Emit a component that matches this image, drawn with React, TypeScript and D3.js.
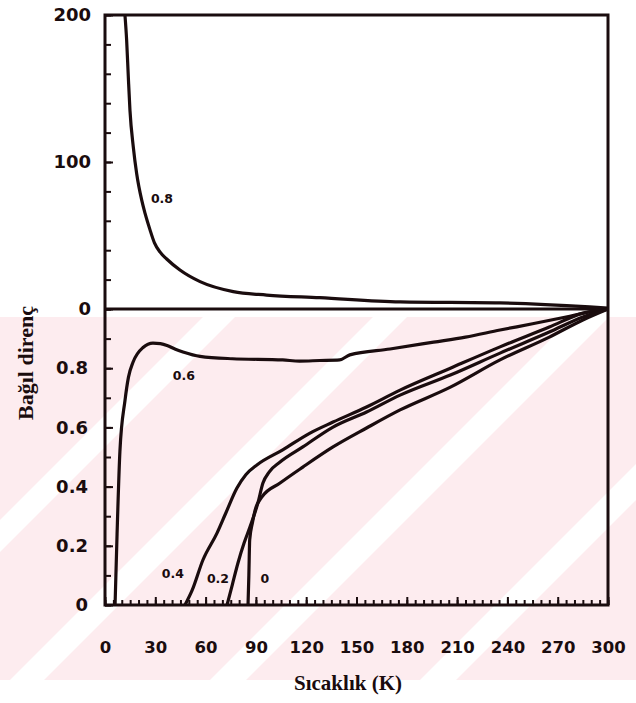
import { useEffect, useRef } from "react";
import * as d3 from "d3";

// [temperature K, relative resistance]
// upper panel curve (x = 0.8), 0..200
const upper08 = [
  [11.9, 200], [12.9, 183], [13.9, 158], [14.9, 135], [16.9, 110], [18.9, 92],
  [21.9, 74], [23.9, 65], [26.8, 54], [29.5, 45], [33, 38.5], [36.8, 34],
  [44.7, 26.5], [56.7, 18.6], [76.5, 11.8], [96.4, 9.5], [128, 7.7], [176, 4.8],
  [235.6, 4.1], [289, 1.4], [300, 0.6],
];
// lower panel curves, 0..1
const lower06 = [
  [6, 0], [7.2, 0.24], [8.9, 0.52], [11.9, 0.69], [14, 0.77], [16.7, 0.82],
  [22.7, 0.87], [28.6, 0.885], [33, 0.883], [37, 0.877], [42, 0.864], [46.5, 0.855],
  [56.7, 0.84], [76, 0.832], [106, 0.828], [116, 0.824], [128, 0.826], [140, 0.828],
  [146, 0.845], [170, 0.865], [196, 0.888], [215, 0.905], [235.6, 0.929], [255, 0.95],
  [275, 0.973], [289, 0.99], [300, 1.0],
];
const lower04 = [
  [47.7, 0], [52, 0.05], [58.4, 0.152], [66.8, 0.243], [72, 0.31], [78.7, 0.395],
  [84, 0.44], [90.6, 0.473], [106, 0.524], [122, 0.58], [136, 0.618], [156, 0.669],
  [176, 0.726], [206, 0.8], [235.6, 0.872], [265, 0.939], [285, 0.986], [300, 1.0],
];
const lower02 = [
  [72.8, 0], [76, 0.07], [79.3, 0.142], [83, 0.21], [86.5, 0.264], [91.2, 0.345],
  [94.2, 0.412], [98, 0.45], [104.4, 0.483], [118, 0.534], [136, 0.601], [156, 0.652],
  [176, 0.709], [206, 0.777], [235.6, 0.851], [265, 0.922], [285, 0.973], [300, 1.0],
];
const lower00 = [
  [85.3, 0], [85.8, 0.1], [86.3, 0.22], [88, 0.28], [89.5, 0.32], [93.6, 0.365],
  [104.4, 0.412], [118, 0.466], [136, 0.534], [156, 0.598], [176, 0.659], [206, 0.736],
  [235.6, 0.828], [265, 0.905], [285, 0.963], [300, 1.0],
];

// curve labels: [text, T, value, panel]
const curveLabels = [
  ["0.8", 34, 75.5, "up"],
  ["0.6", 47, 0.777, "lo"],
  ["0.4", 40.5, 0.108, "lo"],
  ["0.2", 67.4, 0.091, "lo"],
  ["0", 95.4, 0.091, "lo"],
];

const xTicks = [0, 30, 60, 90, 120, 150, 180, 210, 240, 270, 300];
const upperTicks = [0, 100, 200];
const lowerTicks = [0, 0.2, 0.4, 0.6, 0.8];

function App() {
  const ref = useRef(null);

  useEffect(() => {
    document.body.style.margin = "0";
    drawChart();
  }, []);

  function drawChart() {
    const W = 636;
    const left = 105, right = 608, top = 15, mid = 309, bottom = 605;
    const ink = "#1a0c0e";

    const svg = d3.select(ref.current);
    svg.selectAll("*").remove();

    const x = d3.scaleLinear().domain([0, 300]).range([left, right]);
    const yUp = d3.scaleLinear().domain([0, 200]).range([mid, top]);
    const yLo = d3.scaleLinear().domain([0, 1]).range([bottom, mid]);

    // faint watermark behind the lower part of the scan
    const wmTop = 317, wmBot = 680, wmH = wmBot - wmTop;
    const wm = svg.append("g");
    wm.append("rect")
      .attr("x", 0).attr("y", wmTop).attr("width", W).attr("height", wmH)
      .attr("fill", "#fdecef");
    // white diagonal bands: [x at bottom edge, width, direction]
    const stripes = [[-160, 32, 1], [10, 34, 1], [210, 36, 1], [420, 36, 1]];
    wm.selectAll("polygon")
      .data(stripes)
      .join("polygon")
      .attr("points", ([x0, w, dir]) => {
        const s = dir * wmH;
        return `${x0},${wmBot} ${x0 + w},${wmBot} ${x0 + w + s},${wmTop} ${x0 + s},${wmTop}`;
      })
      .attr("fill", "#ffffff");

    svg.append("clipPath").attr("id", "plot-clip")
      .append("rect").attr("x", left).attr("y", top)
      .attr("width", right - left).attr("height", bottom - top);

    // axes (ticks inward)
    function styleAxis(g, size) {
      g.select(".domain").remove();
      g.attr("font-family", "'DejaVu Sans', sans-serif")
        .attr("font-weight", "bold")
        .attr("font-size", size)
        .attr("color", ink);
      g.selectAll("line").attr("stroke-width", 2);
    }

    svg.append("g")
      .attr("transform", `translate(${left},0)`)
      .call(d3.axisLeft(yUp).tickValues(d3.range(0, 201, 20)).tickSize(-6).tickFormat(() => ""))
      .call(g => styleAxis(g, 18));
    svg.append("g")
      .attr("transform", `translate(${left},0)`)
      .call(d3.axisLeft(yUp).tickValues(upperTicks).tickSize(-8).tickPadding(14))
      .call(g => styleAxis(g, 18));

    svg.append("g")
      .attr("transform", `translate(${left},0)`)
      .call(d3.axisLeft(yLo).tickValues(d3.range(0, 1.01, 0.1)).tickSize(-6).tickFormat(() => ""))
      .call(g => styleAxis(g, 18));
    svg.append("g")
      .attr("transform", `translate(${left},0)`)
      .call(d3.axisLeft(yLo).tickValues(lowerTicks).tickSize(-8).tickPadding(17)
        .tickFormat(d => (d === 0 ? "0" : d3.format(".1f")(d))))
      .call(g => styleAxis(g, 18));

    svg.append("g")
      .attr("transform", `translate(0,${bottom})`)
      .call(d3.axisBottom(x).tickValues(d3.range(0, 301, 5)).tickSize(-5).tickFormat(() => ""))
      .call(g => styleAxis(g, 16));
    svg.append("g")
      .attr("transform", `translate(0,${bottom})`)
      .call(d3.axisBottom(x).tickValues(xTicks).tickSize(-8).tickPadding(36))
      .call(g => styleAxis(g, 16.5));

    // frame and panel divider
    svg.append("rect")
      .attr("x", left).attr("y", top)
      .attr("width", right - left).attr("height", bottom - top)
      .attr("fill", "none").attr("stroke", ink).attr("stroke-width", 3);
    svg.append("line")
      .attr("x1", left).attr("x2", right).attr("y1", mid).attr("y2", mid)
      .attr("stroke", ink).attr("stroke-width", 3);

    const lineUp = d3.line().x(d => x(d[0])).y(d => yUp(d[1])).curve(d3.curveMonotoneX);
    const lineLo = d3.line().x(d => x(d[0])).y(d => yLo(d[1])).curve(d3.curveMonotoneX);

    const curves = svg.append("g")
      .attr("clip-path", "url(#plot-clip)")
      .attr("fill", "none")
      .attr("stroke", ink)
      .attr("stroke-width", 3.2)
      .attr("stroke-linejoin", "round");
    curves.append("path").attr("d", lineUp(upper08));
    [lower06, lower04, lower02, lower00].forEach(s => {
      curves.append("path").attr("d", lineLo(s));
    });

    svg.append("g")
      .attr("font-family", "'DejaVu Sans', sans-serif")
      .attr("font-weight", "bold")
      .attr("font-size", 12.5)
      .attr("fill", ink)
      .attr("text-anchor", "middle")
      .selectAll("text")
      .data(curveLabels)
      .join("text")
      .attr("x", d => x(d[1]))
      .attr("y", d => (d[3] === "up" ? yUp(d[2]) : yLo(d[2])))
      .attr("dy", "0.36em")
      .text(d => d[0]);

    // axis titles
    svg.append("text")
      .attr("transform", `translate(25,363) rotate(-90)`)
      .attr("text-anchor", "middle")
      .attr("dy", "0.35em")
      .attr("font-family", "'Liberation Serif', 'Times New Roman', serif")
      .attr("font-weight", "bold")
      .attr("font-size", 22)
      .attr("fill", ink)
      .text("Bağıl direnç");

    svg.append("text")
      .attr("x", 348).attr("y", 690)
      .attr("text-anchor", "middle")
      .attr("font-family", "'Liberation Serif', 'Times New Roman', serif")
      .attr("font-weight", "bold")
      .attr("font-size", 21)
      .attr("fill", ink)
      .text("Sıcaklık (K)");
  }

  return <svg ref={ref} width={636} height={703} style={{ display: "block", background: "#ffffff" }} />;
}

export default App;
